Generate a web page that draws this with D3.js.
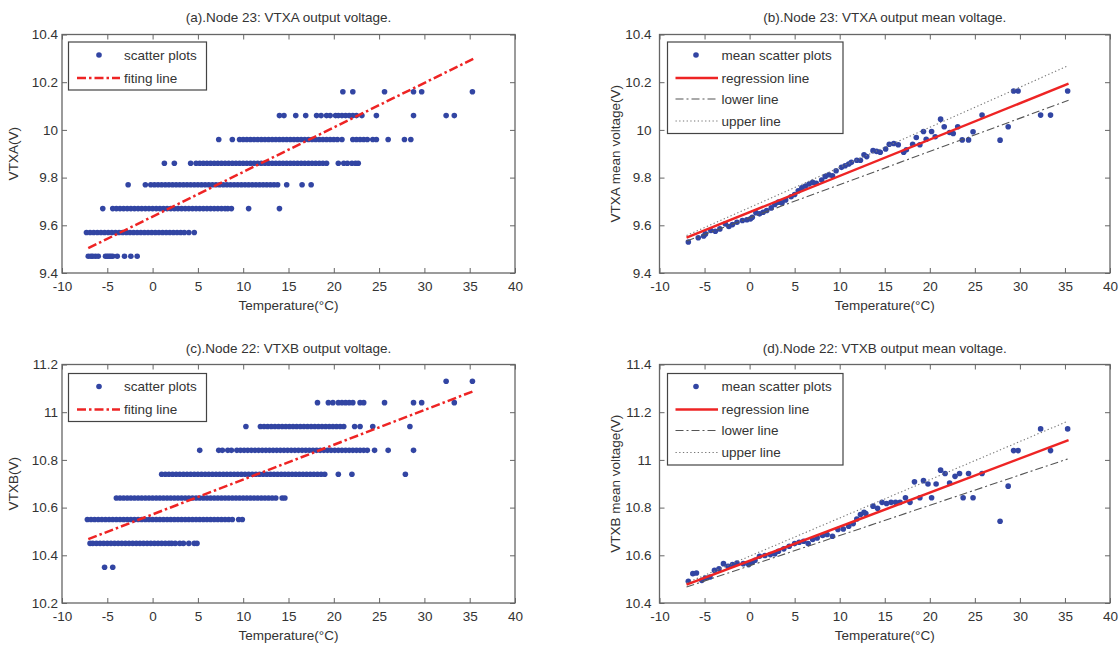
<!DOCTYPE html>
<html>
<head>
<meta charset="utf-8">
<script src="https://cdn.jsdelivr.net/npm/d3@7"></script>
<style>
  body { margin: 0; background: #fff; }
  svg text { font-family: "Liberation Sans", Arial, sans-serif; fill: #333; }
</style>
</head>
<body>
<svg id="chart" width="1119" height="647"></svg>
<script>
// x ticks shared by all four panels
var tempTicks = [-10, -5, 0, 5, 10, 15, 20, 25, 30, 35, 40];

// (a) Node 23 VTXA raw scatter, one list of temperatures per voltage level
var vtxaLevels = [9.47, 9.57, 9.67, 9.77, 9.86, 9.96, 10.06, 10.16];
var vtxaTemps = [
  [-7.1, -6.8, -6.6, -6.3, -6.0, -5.2, -5.0, -4.8, -4.6, -4.4, -3.9, -3.1, -2.4, -1.7],
  [-7.3, -6.9, -6.5, -6.1, -5.7, -5.3, -4.9, -4.5, -4.1, -3.7, -3.3, -2.9, -2.5, -2.1, -1.7, -1.3, -0.9, -0.5, -0.1, 0.3, 0.7, 1.1, 1.5, 1.9, 2.3, 2.7, 3.1, 3.5, 4.0, 4.6],
  [-5.5, -4.4, -4.0, -3.6, -3.2, -2.8, -2.4, -2.0, -1.6, -1.2, -0.8, -0.4, 0.0, 0.4, 0.8, 1.2, 1.6, 2.0, 2.4, 2.8, 3.2, 3.6, 4.0, 4.4, 4.8, 5.2, 5.6, 6.0, 6.4, 6.8, 7.2, 7.6, 8.0, 8.3, 8.7, 10.6, 14.0],
  [-2.7, -0.8, -0.2, 0.2, 0.6, 1.0, 1.4, 1.8, 2.2, 2.6, 3.0, 3.4, 3.8, 4.2, 4.6, 5.0, 5.4, 5.8, 6.2, 6.6, 7.0, 7.4, 7.8, 8.2, 8.6, 9.0, 9.4, 9.8, 10.2, 10.6, 11.0, 11.4, 11.8, 12.2, 12.6, 13.0, 13.4, 13.8, 14.8, 16.5, 17.5],
  [1.3, 2.4, 4.2, 4.8, 5.2, 5.6, 6.0, 6.4, 6.8, 7.2, 7.6, 8.0, 8.4, 8.8, 9.2, 9.6, 10.0, 10.4, 10.8, 11.2, 11.6, 12.0, 12.4, 12.8, 13.2, 13.6, 14.0, 14.4, 14.8, 15.2, 15.6, 16.0, 16.4, 16.8, 17.2, 17.6, 18.0, 18.4, 18.8, 19.2, 20.5, 21.1, 21.5, 22.0, 22.4, 22.7],
  [7.3, 8.8, 9.6, 10.0, 10.4, 10.8, 11.2, 11.6, 12.0, 12.4, 12.8, 13.2, 13.6, 14.0, 14.4, 14.8, 15.2, 15.6, 16.0, 16.4, 16.8, 17.2, 17.6, 18.0, 18.4, 18.8, 19.2, 19.6, 20.0, 20.4, 20.9, 22.1, 22.5, 22.9, 23.3, 23.7, 24.3, 24.7, 26.0, 27.8, 28.5],
  [14.0, 14.5, 15.8, 16.9, 18.1, 18.6, 19.2, 19.6, 20.2, 20.5, 20.9, 21.3, 21.7, 22.1, 22.5, 23.1, 24.7, 28.8, 32.4, 33.3],
  [21.0, 22.1, 25.6, 28.8, 29.7, 35.3]
];
var vtxaFit = [[-7.1, 9.504], [35.4, 10.298]];

// (b) Node 23 VTXA mean values
var vtxaMeanT = [-6.8, -5.7, -5.1, -4.9, -4.3, -3.8, -3.3, -2.7, -2.3, -1.9, -1.4, -0.8, -0.3, 0.1, 0.3, 0.7, 1.1, 1.5, 1.9, 2.4, 2.8, 3.2, 3.6, 4.0, 4.6, 5.0, 5.4, 5.8, 6.2, 6.6, 7.0, 7.4, 8.0, 8.4, 8.8, 9.2, 9.6, 10.2, 10.6, 11.0, 11.3, 11.9, 12.3, 12.7, 13.0, 13.7, 14.1, 14.5, 15.1, 15.5, 16.0, 16.5, 17.1, 17.4, 18.1, 18.5, 18.9, 19.3, 19.6, 20.2, 20.6, 21.2, 21.6, 22.2, 22.6, 23.1, 23.6, 24.3, 24.8, 25.8, 27.8, 28.7, 29.3, 29.8, 32.3, 33.4, 35.3];
var vtxaMeanV = [9.530, 9.548, 9.555, 9.564, 9.578, 9.575, 9.585, 9.606, 9.595, 9.603, 9.613, 9.620, 9.623, 9.627, 9.634, 9.653, 9.648, 9.655, 9.662, 9.673, 9.687, 9.697, 9.694, 9.706, 9.720, 9.729, 9.745, 9.757, 9.765, 9.773, 9.780, 9.776, 9.790, 9.805, 9.812, 9.808, 9.829, 9.843, 9.850, 9.857, 9.864, 9.873, 9.873, 9.896, 9.888, 9.913, 9.910, 9.906, 9.920, 9.940, 9.943, 9.938, 9.906, 9.917, 9.940, 9.968, 9.938, 9.993, 9.961, 9.993, 9.971, 10.045, 10.013, 9.989, 9.985, 10.013, 9.958, 9.958, 9.992, 10.062, 9.957, 10.013, 10.163, 10.163, 10.062, 10.062, 10.163];
var vtxaReg = [[-7.0, 9.548], [35.4, 10.194]];
var vtxaUpper = [[-7.0, 9.557], [35.3, 10.268]];
var vtxaLower = [[-7.0, 9.534], [35.4, 10.124]];

// (c) Node 22 VTXB raw scatter
var vtxbLevels = [10.35, 10.45, 10.55, 10.64, 10.74, 10.84, 10.94, 11.04, 11.13];
var vtxbTemps = [
  [-5.3, -4.4],
  [-6.9, -6.6, -6.2, -5.8, -5.4, -5.0, -4.6, -4.2, -3.8, -3.4, -3.0, -2.6, -2.2, -1.8, -1.4, -1.0, -0.6, -0.2, 0.2, 0.6, 1.0, 1.4, 1.8, 2.1, 2.5, 3.0, 3.4, 4.0, 4.6, 4.9],
  [-7.2, -6.8, -6.4, -6.0, -5.6, -5.2, -4.8, -4.4, -4.0, -3.6, -3.2, -2.8, -2.4, -2.0, -1.6, -1.2, -0.8, -0.4, 0.0, 0.4, 0.8, 1.2, 1.6, 2.0, 2.4, 2.8, 3.2, 3.6, 4.0, 4.4, 4.8, 5.2, 5.6, 6.0, 6.4, 6.8, 7.2, 7.6, 8.0, 8.4, 8.8, 9.5, 9.9],
  [-4.0, -3.6, -3.2, -2.8, -2.4, -2.0, -1.6, -1.2, -0.8, -0.4, 0.0, 0.4, 0.8, 1.2, 1.6, 2.0, 2.4, 2.8, 3.2, 3.6, 4.0, 4.4, 4.8, 5.2, 5.6, 6.0, 6.4, 6.8, 7.2, 7.6, 8.0, 8.4, 8.8, 9.2, 9.6, 10.0, 10.4, 10.8, 11.2, 11.6, 12.0, 12.4, 12.8, 13.2, 13.6, 14.3, 14.6],
  [1.0, 1.4, 1.8, 2.2, 2.6, 3.0, 3.4, 3.8, 4.2, 4.6, 5.0, 5.4, 5.8, 6.2, 6.6, 7.0, 7.4, 7.8, 8.2, 8.6, 9.0, 9.4, 9.8, 10.2, 10.6, 11.0, 11.4, 11.8, 12.2, 12.6, 13.0, 13.4, 13.8, 14.2, 14.6, 15.0, 15.4, 15.8, 16.2, 16.6, 17.0, 17.4, 17.8, 18.2, 18.6, 19.0, 20.5, 22.0, 27.9],
  [5.2, 7.3, 7.7, 8.3, 8.7, 9.3, 9.7, 10.1, 10.5, 10.9, 11.3, 11.7, 12.1, 12.5, 12.9, 13.3, 13.7, 14.1, 14.5, 14.9, 15.3, 15.7, 16.1, 16.5, 16.9, 17.3, 17.7, 18.1, 18.5, 18.9, 19.3, 19.7, 20.1, 20.5, 20.9, 21.3, 21.7, 22.1, 22.5, 22.9, 23.3, 23.7, 24.5, 26.0, 28.8],
  [10.3, 11.9, 12.3, 12.7, 13.1, 13.5, 13.9, 14.3, 14.7, 15.1, 15.5, 15.9, 16.3, 16.7, 17.1, 17.5, 17.9, 18.3, 18.7, 19.1, 19.5, 19.9, 20.3, 20.7, 21.1, 22.3, 22.9, 24.3, 28.4],
  [18.2, 19.4, 19.9, 20.5, 20.9, 21.3, 21.7, 22.1, 22.9, 23.3, 25.6, 28.8, 29.7, 33.3],
  [32.4, 35.3]
];
var vtxbFit = [[-7.1, 10.468], [35.4, 11.088]];

// (d) Node 22 VTXB mean values
var vtxbMeanT = [-6.8, -6.3, -5.9, -5.3, -4.9, -4.4, -3.9, -3.4, -2.9, -2.4, -1.9, -1.4, -0.7, -0.1, 0.3, 0.6, 1.1, 1.7, 2.3, 2.8, 3.2, 3.8, 4.4, 5.0, 5.5, 6.0, 6.5, 7.0, 7.5, 8.1, 8.6, 9.2, 9.8, 10.4, 11.0, 11.5, 11.9, 12.3, 12.7, 12.9, 13.7, 14.2, 14.7, 15.2, 15.7, 16.2, 16.7, 17.3, 17.8, 18.3, 18.9, 19.3, 19.8, 20.2, 20.7, 21.2, 21.7, 22.2, 22.8, 23.3, 23.7, 24.3, 24.8, 25.8, 27.8, 28.7, 29.3, 29.8, 32.3, 33.4, 35.3];
var vtxbMeanV = [10.491, 10.523, 10.526, 10.495, 10.505, 10.509, 10.537, 10.543, 10.565, 10.554, 10.561, 10.568, 10.565, 10.561, 10.571, 10.579, 10.596, 10.599, 10.603, 10.607, 10.617, 10.627, 10.638, 10.649, 10.655, 10.659, 10.649, 10.666, 10.673, 10.683, 10.687, 10.680, 10.708, 10.710, 10.722, 10.733, 10.752, 10.771, 10.780, 10.775, 10.806, 10.797, 10.822, 10.817, 10.822, 10.822, 10.822, 10.841, 10.822, 10.908, 10.841, 10.913, 10.899, 10.841, 10.899, 10.957, 10.943, 10.903, 10.931, 10.943, 10.841, 10.943, 10.841, 10.943, 10.743, 10.890, 11.039, 11.039, 11.130, 11.039, 11.130];
var vtxbReg = [[-7.0, 10.477], [35.4, 11.083]];
var vtxbUpper = [[-7.0, 10.484], [35.3, 11.162]];
var vtxbLower = [[-7.0, 10.467], [35.3, 11.004]];

var BLUE = "#3245a3", RED = "#ee2424", GREY = "#555";
var DOT_R = 2.8;

var svg = d3.select("#chart");

function flatten(levels, temps) {
  var pts = [];
  levels.forEach(function(v, i) {
    temps[i].forEach(function(t) { pts.push([t, v]); });
  });
  return pts;
}
function zipPts(ts, vs) {
  return ts.map(function(t, i) { return [t, vs[i]]; });
}

function drawPanel(cfg) {
  var g = svg.append("g").attr("transform", "translate(" + cfg.left + "," + cfg.top + ")");
  var w = cfg.w, h = cfg.h;
  var x = d3.scaleLinear().domain([-10, 40]).range([0, w]);
  var y = d3.scaleLinear().domain(cfg.yDomain).range([h, 0]);
  var fmt = function(d) { return String(+d.toFixed(1)); };

  // axes, ticks pointing inwards like matlab
  var bx = g.append("g").attr("transform", "translate(0," + h + ")")
    .call(d3.axisBottom(x).tickValues(tempTicks).tickSize(-5).tickPadding(8).tickFormat(fmt));
  var tx = g.append("g")
    .call(d3.axisTop(x).tickValues(tempTicks).tickSize(-5).tickFormat(""));
  var ly = g.append("g")
    .call(d3.axisLeft(y).tickValues(cfg.yTicks).tickSize(-5).tickPadding(cfg.yPad).tickFormat(fmt));
  var ry = g.append("g").attr("transform", "translate(" + w + ",0)")
    .call(d3.axisRight(y).tickValues(cfg.yTicks).tickSize(-5).tickFormat(""));
  [bx, tx, ly, ry].forEach(function(a) {
    a.select(".domain").remove();
    a.selectAll("line").attr("stroke", "#666");
    a.selectAll("text").style("font-size", "13.5px").attr("fill", "#333");
  });

  g.append("rect").attr("width", w).attr("height", h)
    .attr("fill", "none").attr("stroke", "#666").attr("stroke-width", 1.3);

  // points
  g.append("g").selectAll("circle").data(cfg.points).enter().append("circle")
    .attr("cx", function(d) { return x(d[0]); })
    .attr("cy", function(d) { return y(d[1]); })
    .attr("r", DOT_R)
    .attr("fill", BLUE);

  var line = d3.line().x(function(d) { return x(d[0]); }).y(function(d) { return y(d[1]); });
  cfg.lines.forEach(function(l) {
    g.append("path").datum(l.data)
      .attr("fill", "none")
      .attr("stroke", l.color)
      .attr("stroke-width", l.width)
      .attr("stroke-dasharray", l.dash)
      .attr("d", line);
  });

  // titles and labels
  g.append("text").attr("x", w / 2).attr("y", cfg.titleY)
    .attr("text-anchor", "middle").style("font-size", "13.5px").text(cfg.title);
  g.append("text").attr("x", w / 2).attr("y", h + 36.5)
    .attr("text-anchor", "middle").style("font-size", "13.5px").text("Temperature(°C)");
  g.append("text")
    .attr("transform", "translate(" + cfg.yLabelX + "," + (h / 2) + ") rotate(-90)")
    .attr("text-anchor", "middle").style("font-size", "13.5px").text(cfg.yLabel);

  // legend
  var lg = g.append("g").attr("transform", "translate(" + cfg.legend.x + "," + cfg.legend.y + ")");
  lg.append("rect").attr("width", cfg.legend.w).attr("height", cfg.legend.h)
    .attr("fill", "#fff").attr("stroke", "#444").attr("stroke-width", 1.2);
  cfg.legend.items.forEach(function(it, i) {
    var yy = cfg.legend.rows[i];
    if (it.type == "dot") {
      lg.append("circle").attr("cx", cfg.legend.mx).attr("cy", yy).attr("r", DOT_R).attr("fill", BLUE);
    } else {
      lg.append("line").attr("x1", cfg.legend.l1).attr("x2", cfg.legend.l2)
        .attr("y1", yy).attr("y2", yy)
        .attr("stroke", it.color).attr("stroke-width", it.width).attr("stroke-dasharray", it.dash);
    }
    lg.append("text").attr("x", cfg.legend.tx).attr("y", yy + 4.8)
      .style("font-size", "13.5px").text(it.label);
  });
}

var fitStyle = { color: RED, width: 2.5, dash: "9,3,2.5,3" };
var regStyle = { color: RED, width: 2.5, dash: null };
var lowStyle = { color: GREY, width: 1.1, dash: "8,3,2,3" };
var upStyle = { color: "#777", width: 1.1, dash: "1.3,2.4" };

function rawLegend(yOff) {
  return {
    x: 6.5, y: yOff, w: 138, h: 48,
    rows: [13, 36], mx: 30.5, l1: 8.5, l2: 51.5, tx: 55.5,
    items: [
      { type: "dot", label: "scatter plots" },
      { type: "line", color: RED, width: 2.5, dash: "9,3,2.5,3", label: "fiting line" }
    ]
  };
}
function meanLegend(yOff) {
  return {
    x: 8, y: yOff, w: 175.5, h: 91.5,
    rows: [13, 36, 57, 79], mx: 28.5, l1: 8, l2: 50.5, tx: 54,
    items: [
      { type: "dot", label: "mean scatter plots" },
      { type: "line", color: RED, width: 2.5, dash: null, label: "regression line" },
      { type: "line", color: GREY, width: 1.1, dash: "8,3,2,3", label: "lower line" },
      { type: "line", color: "#777", width: 1.1, dash: "1.3,2.4", label: "upper line" }
    ]
  };
}

drawPanel({
  left: 62, top: 34.5, w: 453, h: 238.5,
  yDomain: [9.4, 10.4], yTicks: [9.4, 9.6, 9.8, 10, 10.2, 10.4], yPad: 4,
  points: flatten(vtxaLevels, vtxaTemps),
  lines: [Object.assign({ data: vtxaFit }, fitStyle)],
  title: "(a).Node 23: VTXA output voltage.", titleY: -13,
  yLabel: "VTXA(V)", yLabelX: -44,
  legend: rawLegend(7.5)
});

drawPanel({
  left: 659.5, top: 34.5, w: 450.5, h: 238.5,
  yDomain: [9.4, 10.4], yTicks: [9.4, 9.6, 9.8, 10, 10.2, 10.4], yPad: 8,
  points: zipPts(vtxaMeanT, vtxaMeanV),
  lines: [
    Object.assign({ data: vtxaUpper }, upStyle),
    Object.assign({ data: vtxaLower }, lowStyle),
    Object.assign({ data: vtxaReg }, regStyle)
  ],
  title: "(b).Node 23: VTXA output mean voltage.", titleY: -13,
  yLabel: "VTXA mean voltage(V)", yLabelX: -40,
  legend: meanLegend(7.5)
});

drawPanel({
  left: 62, top: 364.5, w: 453, h: 238.5,
  yDomain: [10.2, 11.2], yTicks: [10.2, 10.4, 10.6, 10.8, 11, 11.2], yPad: 4,
  points: flatten(vtxbLevels, vtxbTemps),
  lines: [Object.assign({ data: vtxbFit }, fitStyle)],
  title: "(c).Node 22: VTXB output voltage.", titleY: -12,
  yLabel: "VTXB(V)", yLabelX: -44,
  legend: rawLegend(9)
});

drawPanel({
  left: 659.5, top: 364.5, w: 450.5, h: 238.5,
  yDomain: [10.4, 11.4], yTicks: [10.4, 10.6, 10.8, 11, 11.2, 11.4], yPad: 8,
  points: zipPts(vtxbMeanT, vtxbMeanV),
  lines: [
    Object.assign({ data: vtxbUpper }, upStyle),
    Object.assign({ data: vtxbLower }, lowStyle),
    Object.assign({ data: vtxbReg }, regStyle)
  ],
  title: "(d).Node 22: VTXB output mean voltage.", titleY: -12,
  yLabel: "VTXB mean voltage(V)", yLabelX: -40,
  legend: meanLegend(9)
});
</script>
</body>
</html>
